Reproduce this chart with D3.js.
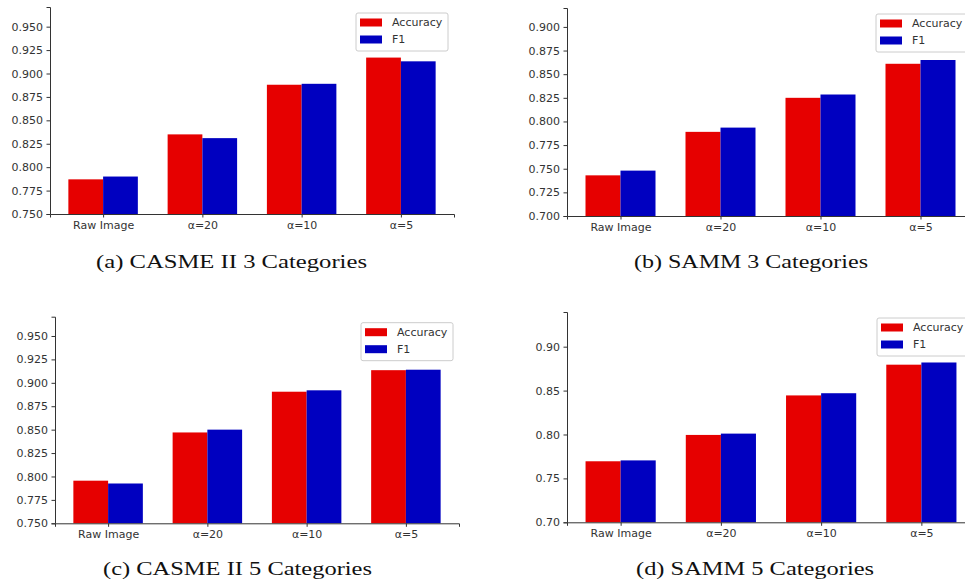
<!DOCTYPE html>
<html>
<head>
<meta charset="utf-8">
<script src="https://cdn.jsdelivr.net/npm/d3@7"></script>
<style>
  body { margin: 0; background: #fff; }
  svg { display: block; }
  .tick text { font-family: "DejaVu Sans", sans-serif; font-size: 11px; fill: #333; }
  .tick line, .domain { stroke: #333; }
  .caption { font-family: "Liberation Serif", serif; font-size: 19px; fill: #111; }
  .legend text { font-family: "DejaVu Sans", sans-serif; font-size: 11px; fill: #333; }
</style>
</head>
<body>
<svg id="chart" width="965" height="584"></svg>
<script>
// categories shared by all four panels
const categories = ['Raw Image', 'α=20', 'α=10', 'α=5'];
const seriesNames = ['Accuracy', 'F1'];

// (a) CASME II 3 categories
const casme3Acc = [0.787, 0.835, 0.888, 0.917];
const casme3F1  = [0.790, 0.831, 0.889, 0.913];
// (b) SAMM 3 categories
const samm3Acc = [0.743, 0.789, 0.825, 0.861];
const samm3F1  = [0.748, 0.7935, 0.8285, 0.865];
// (c) CASME II 5 categories
const casme5Acc = [0.7955, 0.847, 0.8905, 0.9135];
const casme5F1  = [0.7925, 0.850, 0.892, 0.914];
// (d) SAMM 5 categories
const samm5Acc = [0.7695, 0.7995, 0.8445, 0.8795];
const samm5F1  = [0.7705, 0.801, 0.847, 0.882];

const ticks025 = d3.range(0, 9).map(i => +(0.75 + i * 0.025).toFixed(3));
const ticks025b = d3.range(0, 9).map(i => +(0.70 + i * 0.025).toFixed(3));
const ticks05 = d3.range(0, 5).map(i => +(0.70 + i * 0.05).toFixed(2));

const captions = [
  '(a) CASME II 3 Categories',
  '(b) SAMM 3 Categories',
  '(c) CASME II 5 Categories',
  '(d) SAMM 5 Categories'
];

const colors = ['#e60000', '#0000c0'];

// layout of each panel (pixels)
const panels = [
  { acc: casme3Acc, f1: casme3F1, domain: [0.750, 0.971], ticks: ticks025, fmt: '.3f',
    left: 50, right: 454, top: 7, bottom: 214, cap: { x: 231.5, y: 268, w: 271 } },
  { acc: samm3Acc, f1: samm3F1, domain: [0.700, 0.920], ticks: ticks025b, fmt: '.3f',
    left: 567, right: 974, top: 8, bottom: 216, cap: { x: 751, y: 268, w: 234 } },
  { acc: casme5Acc, f1: casme5F1, domain: [0.750, 0.9706], ticks: ticks025, fmt: '.3f',
    left: 55, right: 459, top: 316.7, bottom: 523.3, cap: { x: 237.5, y: 575, w: 269 } },
  { acc: samm5Acc, f1: samm5F1, domain: [0.70, 0.9395], ticks: ticks05, fmt: '.2f',
    left: 567, right: 975, top: 312, bottom: 522.3, cap: { x: 755, y: 575, w: 238 } }
];

const svg = d3.select('#chart');
const barW = 0.35;

panels.forEach((p, k) => {
  const g = svg.append('g');

  const x = d3.scaleLinear().domain([-0.535, 3.535]).range([p.left, p.right]);
  const y = d3.scaleLinear().domain(p.domain).range([p.bottom, p.top]);

  // bars
  [p.acc, p.f1].forEach((vals, s) => {
    g.selectAll(null)
      .data(vals)
      .enter()
      .append('rect')
      .attr('x', (d, i) => x(i - barW + s * barW))
      .attr('width', x(barW) - x(0))
      .attr('y', d => y(d))
      .attr('height', d => y(p.domain[0]) - y(d))
      .attr('fill', colors[s]);
  });

  // axes
  g.append('g')
    .attr('transform', `translate(${p.left},0)`)
    .call(d3.axisLeft(y).tickValues(p.ticks).tickFormat(d3.format(p.fmt))
      .tickSizeOuter(0).tickSize(3.5).tickPadding(3.5));

  g.append('g')
    .attr('transform', `translate(0,${p.bottom})`)
    .call(d3.axisBottom(x).tickValues(d3.range(categories.length))
      .tickFormat(i => categories[i]).tickSizeOuter(0).tickSize(3.5).tickPadding(3.5));

  // legend
  const lx = p.right - 6 - 92;
  const ly = p.top + 6;
  const lg = g.append('g').attr('class', 'legend');
  lg.append('rect')
    .attr('x', lx).attr('y', ly).attr('width', 92).attr('height', 38)
    .attr('rx', 2).attr('fill', '#fff').attr('fill-opacity', 0.8)
    .attr('stroke', '#ccc');
  seriesNames.forEach((name, s) => {
    const cy = ly + 9.5 + s * 17;
    lg.append('rect')
      .attr('x', lx + 4).attr('y', cy - 4).attr('width', 22).attr('height', 8)
      .attr('fill', colors[s]);
    lg.append('text')
      .attr('x', lx + 36).attr('y', cy).attr('dy', '0.36em')
      .text(name);
  });

  // caption
  svg.append('text')
    .attr('class', 'caption')
    .attr('x', p.cap.x).attr('y', p.cap.y)
    .attr('text-anchor', 'middle')
    .attr('textLength', p.cap.w)
    .attr('lengthAdjust', 'spacingAndGlyphs')
    .text(captions[k]);
});
</script>
</body>
</html>
